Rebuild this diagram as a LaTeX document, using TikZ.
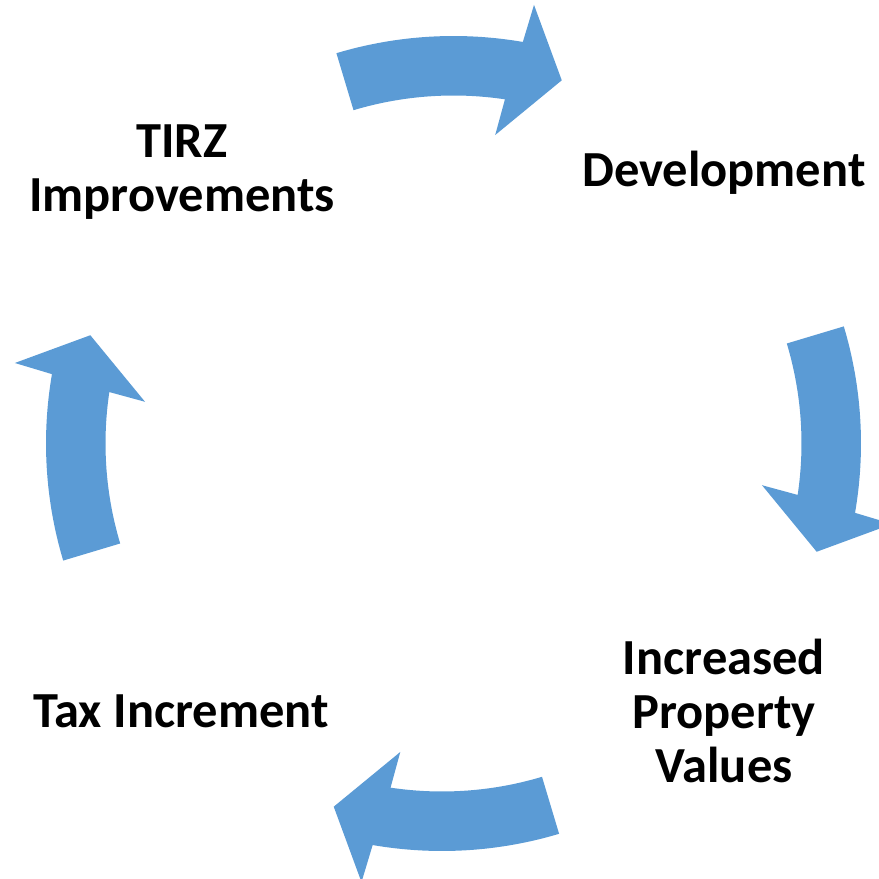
\documentclass[tikz,border=0pt]{standalone}
\usepackage{fontspec}
\setmainfont{Carlito}
\definecolor{arrowblue}{RGB}{91,155,213}
\begin{document}
\begin{tikzpicture}[x=1pt,y=1pt,
  lbl/.style={font=\fontsize{50.5}{54}\selectfont\bfseries, align=center, inner sep=0pt, anchor=base},
  cycarrow/.pic={
    \fill[arrowblue] (106.7:407.5) arc[start angle=106.7, end angle=80.2, radius=407.5]
      -- (79.6:446) -- (73.4:379) -- (82.3:311.3) -- (81.5:348)
      arc[start angle=81.5, end angle=106.7, radius=348] -- cycle;
  }]
\useasboundingbox (0,0) rectangle (879,879);
\coordinate (c) at (453.5,435.5);
\coordinate (cb) at (442,435.5);
\pic at (c) {cycarrow};
\pic[rotate=-90] at (c) {cycarrow};
\pic[rotate=-180] at (cb) {cycarrow};
\pic[rotate=-270] at (c) {cycarrow};
\node[lbl] (tirz) at (182,667) {TIRZ\\Improvements};
\node[lbl] (dev) at (724,692) {Development};
\node[lbl] (ipv) at (724,96) {Increased\\Property\\Values};
\node[lbl] (tax) at (181,151) {Tax Increment};
\end{tikzpicture}
\end{document}
